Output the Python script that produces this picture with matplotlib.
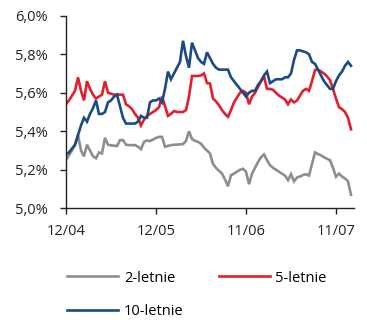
import matplotlib

matplotlib.use("Agg")
import matplotlib.pyplot as plt
import numpy as np


TICK_LABELS = ["12/04", "12/05", "11/06", "11/07"]
TICK_POS = [0, 30, 60, 90]
SERIES_LABELS = ["2-letnie", "5-letnie", "10-letnie"]

Y2 = [
    5.25, 5.275, 5.30, 5.33, 5.38, 5.30, 5.27, 5.33, 5.30, 5.27,
    5.26, 5.29, 5.285, 5.366, 5.33, 5.327, 5.325, 5.323, 5.354, 5.354,
    5.33, 5.328, 5.328, 5.328, 5.32, 5.307, 5.345, 5.352, 5.349, 5.357,
    5.365, 5.371, 5.371, 5.32, 5.324, 5.328, 5.33, 5.331, 5.332, 5.333,
    5.35, 5.40, 5.36, 5.35, 5.345, 5.335, 5.315, 5.30, 5.285, 5.23,
    5.21, 5.195, 5.18, 5.15, 5.115, 5.172, 5.18, 5.19, 5.20, 5.205,
    5.19, 5.125, 5.18, 5.21, 5.24, 5.265, 5.28, 5.25, 5.224, 5.21,
    5.20, 5.19, 5.18, 5.17, 5.146, 5.177, 5.14, 5.16, 5.165, 5.173,
    5.177, 5.17, 5.23, 5.29, 5.282, 5.275, 5.265, 5.257, 5.25, 5.21,
    5.164, 5.18, 5.165, 5.155, 5.14, 5.07,
]
Y5 = [
    5.54, 5.56, 5.585, 5.61, 5.68, 5.61, 5.56, 5.66, 5.62, 5.59,
    5.57, 5.58, 5.59, 5.66, 5.60, 5.595, 5.59, 5.59, 5.59, 5.59,
    5.54, 5.53, 5.515, 5.49, 5.47, 5.43, 5.46, 5.48, 5.49, 5.50,
    5.51, 5.525, 5.58, 5.53, 5.48, 5.49, 5.505, 5.50, 5.50, 5.50,
    5.51, 5.58, 5.687, 5.687, 5.687, 5.69, 5.70, 5.65, 5.648, 5.57,
    5.555, 5.535, 5.51, 5.49, 5.475, 5.51, 5.55, 5.575, 5.60, 5.61,
    5.60, 5.54, 5.58, 5.60, 5.63, 5.66, 5.685, 5.62, 5.62, 5.615,
    5.60, 5.585, 5.575, 5.565, 5.54, 5.565, 5.55, 5.56, 5.585, 5.61,
    5.62, 5.61, 5.66, 5.718, 5.72, 5.71, 5.70, 5.685, 5.665, 5.62,
    5.57, 5.525, 5.515, 5.50, 5.47, 5.41,
]
Y10 = [
    5.28, 5.29, 5.31, 5.33, 5.38, 5.43, 5.47, 5.45, 5.49, 5.52,
    5.56, 5.49, 5.49, 5.50, 5.55, 5.56, 5.58, 5.59, 5.53, 5.47,
    5.44, 5.44, 5.44, 5.44, 5.45, 5.48, 5.47, 5.47, 5.55, 5.56,
    5.56, 5.57, 5.55, 5.62, 5.71, 5.67, 5.70, 5.73, 5.76, 5.87,
    5.79, 5.73, 5.86, 5.82, 5.78, 5.76, 5.75, 5.81, 5.78, 5.75,
    5.73, 5.72, 5.72, 5.72, 5.72, 5.68, 5.66, 5.64, 5.62, 5.60,
    5.58, 5.60, 5.61, 5.61, 5.64, 5.66, 5.69, 5.71, 5.65, 5.66,
    5.67, 5.67, 5.67, 5.68, 5.68, 5.70, 5.77, 5.82, 5.82, 5.815,
    5.81, 5.80, 5.76, 5.75, 5.72, 5.69, 5.66, 5.64, 5.62, 5.62,
    5.66, 5.69, 5.71, 5.74, 5.76, 5.74,
]

COLORS = ["#8e8e8e", "#e31e2d", "#1b4a85"]
FONT = "Open Sans"
FONT_SIZE = 10.5

plt.rcParams["font.family"] = [FONT, "DejaVu Sans"]

fig = plt.figure(figsize=(3.67, 3.2), dpi=100)
ax = fig.add_axes([66 / 367, 1 - 208.3 / 320, 288 / 367, 192.6 / 320])

x = np.arange(len(Y2))
lines = []
for values, color, label in zip([Y2, Y5, Y10], COLORS, SERIES_LABELS):
    (line,) = ax.plot(x, values, color=color, lw=1.9, label=label,
                      solid_joinstyle="miter")
    lines.append(line)

ax.set_xlim(0, 96)
ax.set_ylim(5.0, 6.0)
ax.set_yticks(np.arange(5.0, 6.01, 0.2))
ax.set_yticklabels([f"{v:.1f}%".replace(".", ",") for v in np.arange(5.0, 6.01, 0.2)])
ax.set_xticks(TICK_POS)
ax.set_xticklabels(TICK_LABELS)

for side in ["top", "right"]:
    ax.spines[side].set_visible(False)
for side in ["left", "bottom"]:
    ax.spines[side].set_linewidth(1.0)
    ax.spines[side].set_color("#222222")
ax.tick_params(axis="both", direction="out", length=4, width=1.0,
               color="#222222", labelsize=FONT_SIZE, labelcolor="#222222")
ax.tick_params(axis="y", pad=9)
ax.tick_params(axis="x", pad=7)

# legend fills column-wise: 2-letnie / 10-letnie in the first column
fig.legend(
    handles=[lines[0], lines[2], lines[1]],
    loc="upper left",
    bbox_to_anchor=(67 / 367, 1 - 270.5 / 320),
    ncol=2,
    frameon=False,
    fontsize=FONT_SIZE,
    borderpad=0,
    borderaxespad=0,
    handlelength=3.5,
    handletextpad=0.4,
    columnspacing=2.4,
    labelspacing=1.3,
)

fig.savefig("out.png", dpi=100)
